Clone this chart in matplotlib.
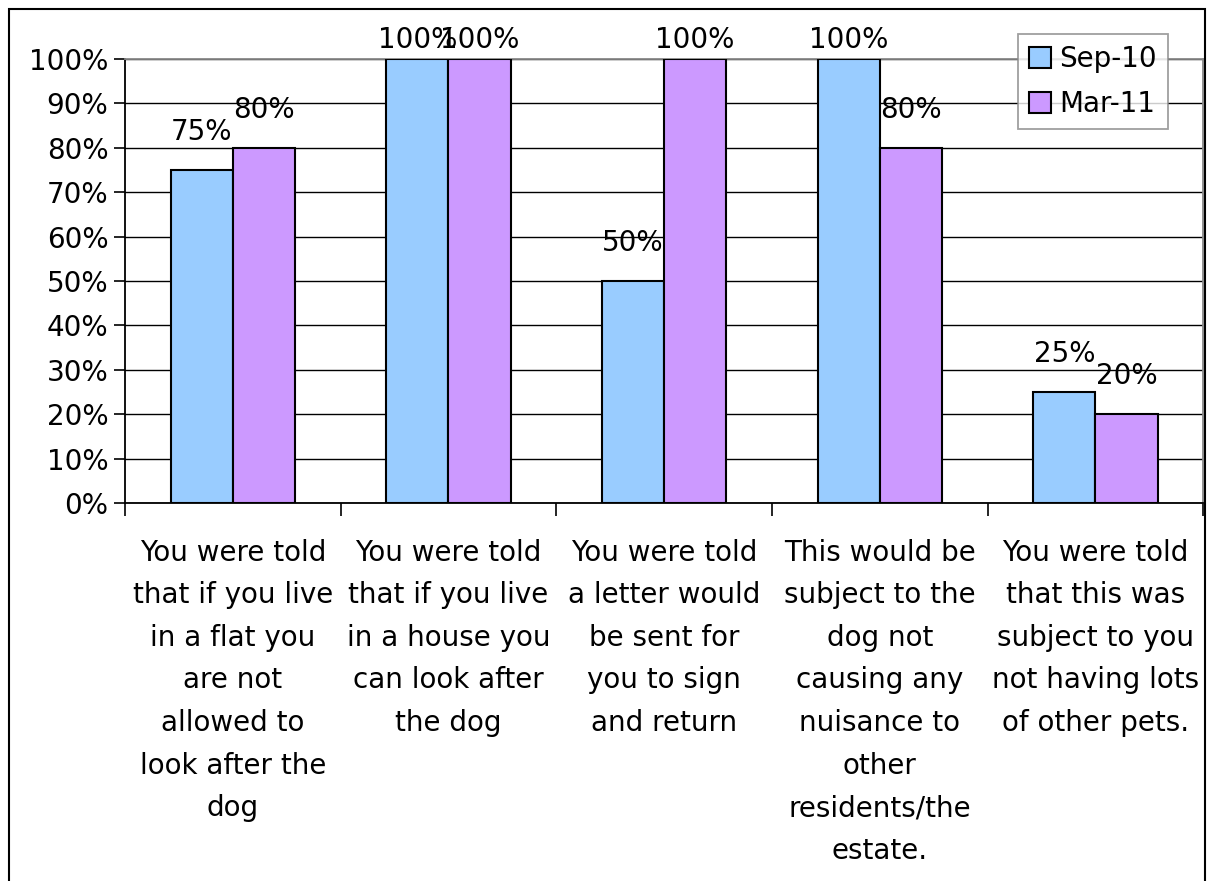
import numpy as np
import matplotlib.pyplot as plt
from matplotlib.patches import Rectangle
from matplotlib.ticker import FuncFormatter

plt.rcParams['font.family'] = ['DejaVu Sans']

categories = [
    "You were told\nthat if you live\nin a flat you\nare not\nallowed to\nlook after the\ndog",
    "You were told\nthat if you live\nin a house you\ncan look after\nthe dog",
    "You were told\na letter would\nbe sent for\nyou to sign\nand return",
    "This would be\nsubject to the\ndog not\ncausing any\nnuisance to\nother\nresidents/the\nestate.",
    "You were told\nthat this was\nsubject to you\nnot having lots\nof other pets.",
]
sep10 = [75, 100, 50, 100, 25]
mar11 = [80, 100, 100, 80, 20]
series_names = ["Sep-10", "Mar-11"]
colors = ["#99CCFF", "#CC99FF"]

fs = 20

fig = plt.figure(figsize=(12.13, 8.81), dpi=100)
ax = fig.add_axes([0.103, 0.429, 0.889, 0.504])

x = np.arange(len(categories))
w = 0.288
b1 = ax.bar(x - w / 2, sep10, w, color=colors[0], edgecolor='black', linewidth=1.5,
            label=series_names[0], zorder=3)
b2 = ax.bar(x + w / 2, mar11, w, color=colors[1], edgecolor='black', linewidth=1.5,
            label=series_names[1], zorder=3)

# value labels above bars, kept inside the chart area for full bars
for bars, vals in ((b1, sep10), (b2, mar11)):
    for rect, v in zip(bars, vals):
        ax.text(rect.get_x() + rect.get_width() / 2, min(v + 8.6, 104.3), f"{v}%",
                ha='center', va='center', fontsize=fs, clip_on=False)

ax.set_xlim(-0.5, len(categories) - 0.5)
ax.set_ylim(0, 100)
ax.set_yticks(np.arange(0, 101, 10))
ax.yaxis.set_major_formatter(FuncFormatter(lambda v, p: f"{int(v)}%"))
ax.tick_params(axis='y', labelsize=fs, length=8, width=1.2, pad=4)
ax.yaxis.grid(True, color='black', linewidth=1.0, zorder=0)

# category boundaries carry the x tick marks, labels sit at the centres
ax.set_xticks(np.arange(-0.5, len(categories), 1.0))
ax.set_xticklabels([])
ax.tick_params(axis='x', length=9, width=1.2)
for i, lab in enumerate(categories):
    ax.text(i, -8.0, lab, ha='center', va='top', fontsize=fs, linespacing=1.665,
            transform=ax.transData)

for side in ('left', 'bottom'):
    ax.spines[side].set_color('black')
    ax.spines[side].set_linewidth(1.3)
for side in ('top', 'right'):
    ax.spines[side].set_color('#888888')
    ax.spines[side].set_linewidth(1.3)

leg = ax.legend(loc='upper right', bbox_to_anchor=(0.9675, 1.056), fontsize=fs,
                frameon=True, fancybox=False, handlelength=0.8, handleheight=0.8,
                handletextpad=0.3, borderpad=0.4, labelspacing=0.6, borderaxespad=0)
leg.get_frame().set_edgecolor('#888888')
leg.get_frame().set_linewidth(1.3)
leg.set_zorder(5)

# outer chart border
fig.patches.append(Rectangle((9 / 1213, -0.05), 1196 / 1213, 1.05 - 9 / 881,
                             transform=fig.transFigure, fill=False,
                             edgecolor='black', linewidth=1.5))

fig.savefig('out.png', dpi=100)
